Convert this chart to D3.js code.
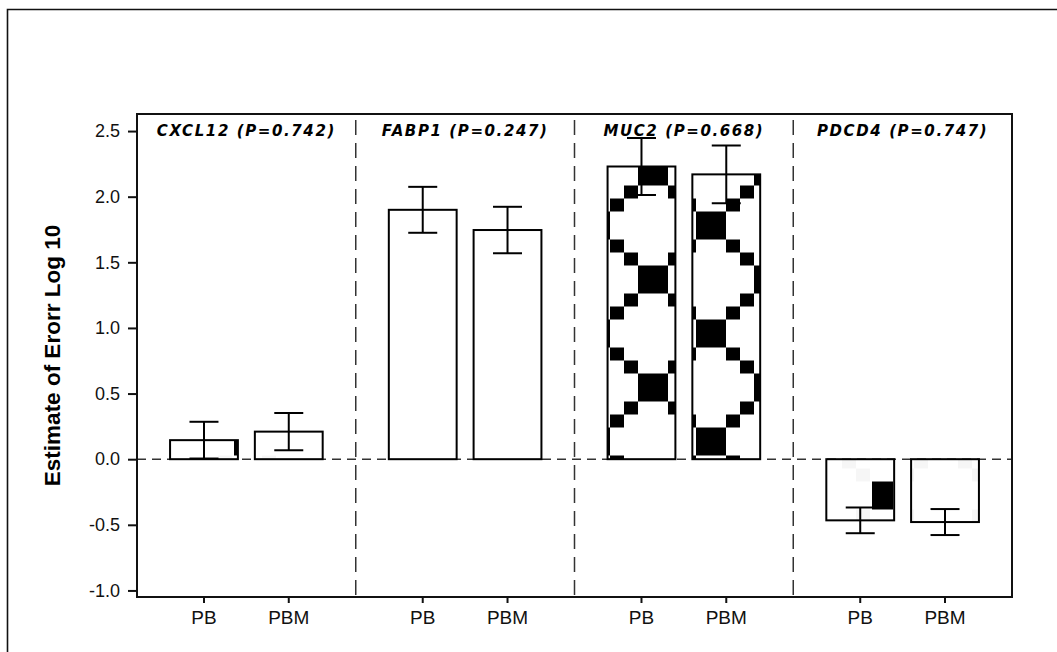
<!DOCTYPE html>
<html>
<head>
<meta charset="utf-8">
<script src="https://cdn.jsdelivr.net/npm/d3@7"></script>
<style>
  html, body { margin: 0; padding: 0; background: #fff; }
  svg { display: block; }
</style>
</head>
<body>
<svg id="chart" width="1057" height="652"></svg>
<script>
// ---------- data ----------
const genes = ["CXCL12", "FABP1", "MUC2", "PDCD4"];
const pValues = ["0.742", "0.247", "0.668", "0.747"];
const groups = ["PB", "PBM"];
const pbMeans = [0.145, 1.90, 2.23, -0.466];
const pbmMeans = [0.21, 1.746, 2.17, -0.479];
const pbErr = [0.14, 0.175, 0.217, 0.098];
const pbmErr = [0.142, 0.177, 0.22, 0.099];
const yTicks = [-1.0, -0.5, 0.0, 0.5, 1.0, 1.5, 2.0, 2.5];
const yLabel = "Estimate of Erorr Log 10";
const fillStyles = ["sparse", "plain", "diamond", "sparse"];

// ---------- layout ----------
const svg = d3.select("#chart");
const pLeft = 137, pRight = 1012, pTop = 114, pBottom = 597;

const y = d3.scaleLinear().domain([-1.05, 2.63]).range([pBottom, pTop]);
const xPanel = d3.scaleBand().domain(genes).range([pLeft, pRight]).padding(0);
const xGroup = d3.scaleBand().domain(groups).range([0, xPanel.bandwidth()])
  .paddingInner(0.2).paddingOuter(0.39);

const rows = [];
genes.forEach((g, i) => {
  rows.push({gene: g, group: "PB", mean: pbMeans[i], err: pbErr[i], style: fillStyles[i]});
  rows.push({gene: g, group: "PBM", mean: pbmMeans[i], err: pbmErr[i], style: fillStyles[i]});
});

// ---------- patterns ----------
const defs = svg.append("defs");
function makePattern(id, withChains, bx0, bw0) {
  const p = defs.append("pattern").attr("id", id)
    .attr("patternUnits", "userSpaceOnUse")
    .attr("x", 595).attr("y", 333.5).attr("width", 116).attr("height", 108);
  p.append("rect").attr("width", 116).attr("height", 108).attr("fill", "#fff");
  const bigs = [[0,0],[116,0],[0,108],[116,108],[58,54]];
  bigs.forEach(([cx, cy]) => p.append("rect")
    .attr("x", cx + bx0).attr("y", cy - 14).attr("width", bw0).attr("height", 28)
    .attr("fill", "#000"));
  const smalls = [[15,14],[29,27],[87,14],[73,27],[15,81],[29,68],[87,81],[73,68]];
  smalls.forEach(([sx, sy]) => p.append("rect")
    .attr("x", sx).attr("y", sy).attr("width", 14).attr("height", 13)
    .attr("fill", withChains ? "#000" : "#f6f6f6"));
}
makePattern("diamond", true, -15, 30);
makePattern("sparse", false, -13, 21);

// ---------- outer frame ----------
svg.append("path").attr("d", "M7.5,652 V9.5 H1057")
  .attr("fill", "none").attr("stroke", "#111").attr("stroke-width", 1.6);

// ---------- zero line ----------
svg.append("line")
  .attr("x1", pLeft).attr("x2", pRight).attr("y1", y(0)).attr("y2", y(0))
  .attr("stroke", "#333").attr("stroke-width", 1.5).attr("stroke-dasharray", "9,6");

// ---------- bars ----------
const bw = xGroup.bandwidth();
svg.append("g").selectAll("rect").data(rows).join("rect")
  .attr("x", d => xPanel(d.gene) + xGroup(d.group))
  .attr("y", d => y(Math.max(0, d.mean)))
  .attr("width", bw)
  .attr("height", d => Math.abs(y(d.mean) - y(0)))
  .attr("fill", d => d.style === "plain" ? "#fff" : `url(#${d.style})`)
  .attr("stroke", "#000").attr("stroke-width", 2);

// ---------- error bars ----------
const eb = svg.append("g").attr("stroke", "#000").attr("stroke-width", 2);
rows.forEach(d => {
  const cx = xPanel(d.gene) + xGroup(d.group) + bw / 2;
  const y1 = y(d.mean + d.err), y2 = y(d.mean - d.err);
  eb.append("line").attr("x1", cx).attr("x2", cx).attr("y1", y1).attr("y2", y2);
  eb.append("line").attr("x1", cx - 14.5).attr("x2", cx + 14.5).attr("y1", y1).attr("y2", y1);
  eb.append("line").attr("x1", cx - 14.5).attr("x2", cx + 14.5).attr("y1", y2).attr("y2", y2);
});

// ---------- panel dividers ----------
genes.slice(1).forEach(g => {
  svg.append("line").attr("x1", xPanel(g)).attr("x2", xPanel(g))
    .attr("y1", pTop).attr("y2", pBottom)
    .attr("stroke", "#333").attr("stroke-width", 1.5).attr("stroke-dasharray", "15,8")
    .attr("stroke-dashoffset", -6);
});

// ---------- plot frame ----------
svg.append("rect").attr("x", pLeft).attr("y", pTop)
  .attr("width", pRight - pLeft).attr("height", pBottom - pTop)
  .attr("fill", "none").attr("stroke", "#111").attr("stroke-width", 2);

// ---------- panel titles ----------
svg.append("g").selectAll("text").data(genes).join("text")
  .attr("x", d => xPanel(d) + xPanel.bandwidth() / 2)
  .attr("y", 136)
  .attr("text-anchor", "middle")
  .attr("font-family", "DejaVu Sans")
  .attr("font-weight", "bold")
  .attr("font-style", "italic")
  .attr("font-size", 15)
  .attr("letter-spacing", 1.6)
  .attr("fill", "#000")
  .text((d, i) => `${d} (P=${pValues[i]})`);

// ---------- y axis ----------
const yAxis = d3.axisLeft(y).tickValues(yTicks).tickFormat(d => d.toFixed(1))
  .tickSize(9).tickPadding(8);
const yg = svg.append("g").attr("transform", `translate(${pLeft},0)`).call(yAxis);
yg.select(".domain").remove();
yg.selectAll(".tick line").attr("stroke", "#111").attr("stroke-width", 2);
yg.selectAll(".tick text").attr("font-family", "Liberation Sans").attr("font-size", 18)
  .attr("fill", "#111");

// ---------- x axis (per panel) ----------
genes.forEach(g => {
  const xs = d3.scaleBand().domain(groups)
    .range([xPanel(g), xPanel(g) + xPanel.bandwidth()])
    .paddingInner(0.2).paddingOuter(0.39);
  const xg = svg.append("g").attr("transform", `translate(0,${pBottom})`)
    .call(d3.axisBottom(xs).tickSize(6).tickPadding(8));
  xg.select(".domain").remove();
  xg.selectAll(".tick line").attr("stroke", "#111").attr("stroke-width", 2);
  xg.selectAll(".tick text").attr("font-family", "Liberation Sans").attr("font-size", 19)
    .attr("fill", "#111");
});

// ---------- y label ----------
svg.append("text")
  .attr("transform", `translate(60,${(pTop + pBottom) / 2}) rotate(-90)`)
  .attr("text-anchor", "middle")
  .attr("font-family", "Liberation Sans")
  .attr("font-weight", "bold")
  .attr("font-size", 22.5)
  .attr("fill", "#000")
  .text(yLabel);
</script>
</body>
</html>
